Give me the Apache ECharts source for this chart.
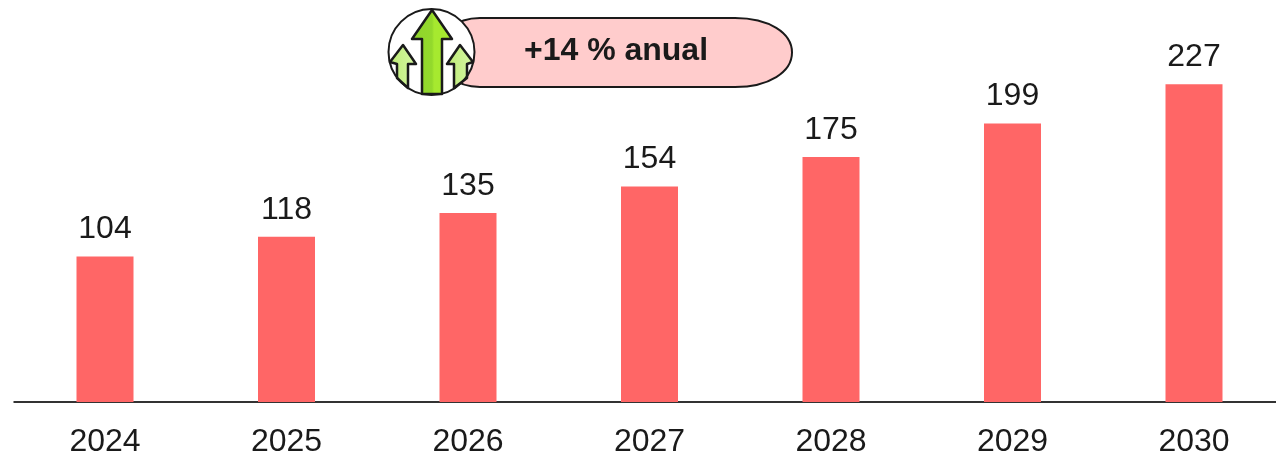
<!DOCTYPE html>
<html>
<head>
<meta charset="utf-8">
<style>html,body{margin:0;padding:0;background:#fff}#chart{width:1276px;height:455px}</style>
<script src="https://cdn.jsdelivr.net/npm/echarts@6/dist/echarts.min.js"></script>
</head>
<body>
<div id="chart"></div>
<script>
const years = ['2024', '2025', '2026', '2027', '2028', '2029', '2030'];
const values = [104, 118, 135, 154, 175, 199, 227];
const badgeText = '+14 % anual';

const ink = '#1a1a1a';
const font = '"Liberation Sans", Arial, sans-serif';

// Pill with long, soft ends rather than true semicircles
echarts.graphic.registerShape('softPill', echarts.graphic.extendShape({
  buildPath(ctx) {
    ctx.moveTo(480, 18);
    ctx.lineTo(735, 18);
    ctx.bezierCurveTo(769, 18, 792, 33, 792, 52.5);
    ctx.bezierCurveTo(792, 72, 769, 87, 735, 87);
    ctx.lineTo(480, 87);
    ctx.bezierCurveTo(455, 87, 440, 72, 440, 52.5);
    ctx.bezierCurveTo(440, 33, 455, 18, 480, 18);
    ctx.closePath();
  }
}));

// Growth badge: pill, round icon and three upward arrows
function arrow(points, fill) {
  return {
    type: 'polygon',
    shape: { points },
    style: { fill, stroke: ink, lineWidth: 2.5, lineJoin: 'round' }
  };
}
const sideFill = {
  type: 'linear', x: 0, y: 0, x2: 1, y2: 0,
  colorStops: [{ offset: 0, color: '#bdec74' }, { offset: 1, color: '#d6f6a6' }]
};
const mainFill = {
  type: 'linear', x: 0, y: 0, x2: 1, y2: 0,
  colorStops: [{ offset: 0, color: '#8fd42b' }, { offset: 0.5, color: '#93d92c' }, { offset: 0.55, color: '#a6e92f' }, { offset: 1, color: '#a6e92f' }]
};
const badge = [
  {
    type: 'softPill',
    style: { fill: '#ffcccc', stroke: ink, lineWidth: 2 }
  },
  {
    type: 'text',
    style: {
      x: 616, y: 51.5, text: badgeText, fill: ink, align: 'center', verticalAlign: 'middle',
      font: 'bold 32px ' + font
    }
  },
  {
    type: 'circle',
    shape: { cx: 431.5, cy: 52, r: 43 },
    style: { fill: '#fff' }
  },
  arrow([[403, 45], [416, 64], [408, 64], [408, 88], [397, 78], [397, 64], [390, 62]], sideFill),
  arrow([[460, 45], [473, 62], [467, 64], [467, 78], [454, 88], [454, 64], [447, 64]], sideFill),
  arrow([[432, 10], [452, 39], [442, 39], [442, 94], [422, 94], [422, 39], [412, 39]], mainFill),
  {
    type: 'circle',
    shape: { cx: 431.5, cy: 52, r: 43 },
    style: { fill: 'none', stroke: ink, lineWidth: 2 }
  }
];

const chart = echarts.init(document.getElementById('chart'));
chart.setOption({
  animation: false,
  backgroundColor: '#fff',
  grid: { left: 14.25, top: 10, width: 1270.5, height: 392, outerBoundsMode: 'none', containLabel: false },
  xAxis: {
    type: 'category',
    data: years,
    axisTick: { show: false },
    axisLine: { lineStyle: { color: '#333', width: 2 } },
    axisLabel: { color: ink, fontSize: 32, fontFamily: font, margin: 24 }
  },
  yAxis: { type: 'value', min: 0, max: 280, show: false },
  series: [{
    type: 'bar',
    data: values,
    barWidth: 57,
    itemStyle: { color: '#ff6666' },
    label: {
      show: true,
      position: 'top',
      distance: 11,
      color: ink,
      fontSize: 32,
      fontFamily: font
    }
  }],
  graphic: badge
});
</script>
</body>
</html>
